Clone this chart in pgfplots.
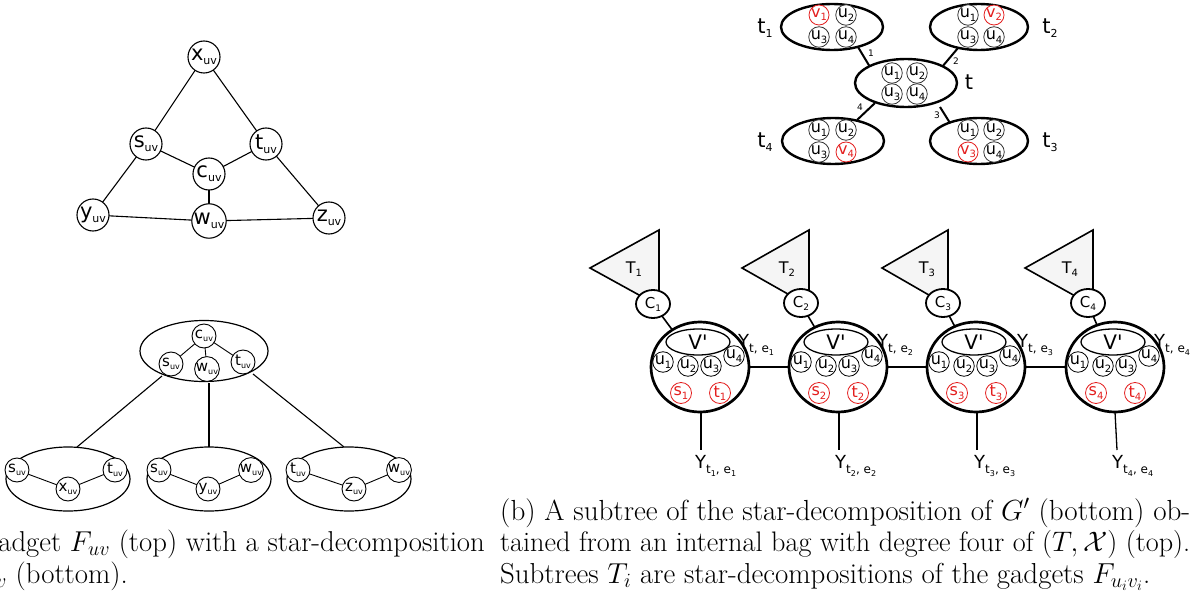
\RequirePackage{fix-cm}
\documentclass[border=0pt]{standalone}
\usepackage{pgfplots}
\pgfplotsset{compat=1.18}
\usepackage{fontspec}
\usetikzlibrary{shapes.geometric}
\newfontfamily\dv{DejaVu Sans}
\definecolor{myred}{RGB}{228,30,30}
\definecolor{trig}{RGB}{245,245,245}
\newcommand\Lb[4]{{\dv\fontsize{#1}{#1}\selectfont #3\raisebox{-0.2em}{\fontsize{#2}{#2}\selectfont #4}}}
\newcommand\ssub[1]{\raisebox{-3pt}{\fontsize{8}{8}\selectfont #1}}
\newcommand\Ya[1]{{\dv\fontsize{18}{18}\selectfont Y\raisebox{-5pt}{\fontsize{12}{12}\selectfont t, e\ssub{#1}}}}
\newcommand\Yb[1]{{\dv\fontsize{18}{18}\selectfont Y\raisebox{-5pt}{\fontsize{12}{12}\selectfont t\ssub{#1}, e\ssub{#1}}}}
\newcommand\E[5][]{\addplot[black, line width=1.1pt, #1] coordinates {(#2,#3) (#4,#5)};}
\newcommand\Cap[2]{\resizebox{#1}{!}{\fontsize{26}{32}\selectfont #2}}
\tikzset{
  gn/.style={draw, circle, fill=white, inner sep=0pt, minimum size=32pt, line width=1.1pt},
  sn/.style={draw, circle, fill=white, inner sep=0pt, minimum size=24pt, line width=0.9pt},
  bag/.style={draw, ellipse, fill=white, inner sep=0pt, line width=1.2pt},
  tb/.style={draw, ellipse, fill=white, inner sep=0pt, line width=2.4pt, minimum width=100pt, minimum height=46pt},
  uc/.style={draw=black!80, circle, fill=white, inner sep=0pt, minimum size=20pt, line width=0.8pt},
  rc/.style={draw=myred, text=myred, circle, fill=white, inner sep=0pt, minimum size=20pt, line width=0.8pt},
  big/.style={draw, ellipse, fill=white, inner sep=0pt, line width=2.7pt, minimum width=98pt, minimum height=90pt},
  vp/.style={draw, ellipse, fill=white, inner sep=0pt, line width=1.3pt, minimum width=64pt, minimum height=26pt},
  bu/.style={draw, circle, fill=white, inner sep=0pt, minimum size=20pt, line width=0.8pt},
  br/.style={draw=myred, text=myred, circle, fill=white, inner sep=0pt, minimum size=21pt, line width=0.8pt},
  ce/.style={draw, ellipse, fill=white, inner sep=0pt, line width=1.8pt, minimum width=34pt, minimum height=28pt},
}
\begin{document}
\begin{tikzpicture}
\begin{axis}[name=ax, x=1pt, y=1pt, xmin=0, xmax=1201, ymin=0, ymax=596,
  y dir=reverse, hide axis, clip=false]
% ---------- (a) top: gadget F_uv ----------
\E{204}{57}{146}{144}
\E{204}{57}{266}{144}
\E{146}{144}{209}{174}
\E{266}{144}{209}{174}
\E{146}{144}{93}{215}
\E{266}{144}{329}{218}
\E{209}{174}{209}{221}
\E{93}{215}{209}{221}
\E{209}{221}{329}{218}
\node[gn] at (204,57) {\Lb{21}{11}{x}{uv}};
\node[gn] at (146,144) {\Lb{21}{11}{s}{uv}};
\node[gn] at (266,144) {\Lb{21}{11}{t}{uv}};
\node[gn] at (209,174) {\Lb{21}{11}{c}{uv}};
\node[gn] at (93,215) {\Lb{21}{11}{y}{uv}};
\node[gn] at (209,221) {\Lb{21}{11}{w}{uv}};
\node[gn] at (329,218) {\Lb{21}{11}{z}{uv}};
% ---------- (a) bottom: star decomposition ----------
\E{162}{376}{77}{447}
\E{209}{383}{209}{448}
\E{253}{374}{344}{447}
\node[bag, minimum width=128pt, minimum height=61pt] at (204,351) {};
\E[line width=0.9pt]{204}{336}{171}{364}
\E[line width=0.9pt]{204}{336}{207}{369}
\E[line width=0.9pt]{204}{336}{243}{362}
\node[sn] at (204,336) {\Lb{15}{8}{c}{uv}};
\node[sn] at (171,364) {\Lb{15}{8}{s}{uv}};
\node[sn] at (207,369) {\Lb{15}{8}{w}{uv}};
\node[sn] at (243,362) {\Lb{15}{8}{t}{uv}};
\node[bag, minimum width=124pt, minimum height=64pt] at (68,479) {};
\node[bag, minimum width=124pt, minimum height=64pt] at (209,479) {};
\node[bag, minimum width=124pt, minimum height=64pt] at (349,479) {};
\E[line width=0.9pt]{17}{470}{68}{489}
\E[line width=0.9pt]{68}{489}{115}{470}
\E[line width=0.9pt]{159}{470}{208}{489}
\E[line width=0.9pt]{208}{489}{251}{470}
\E[line width=0.9pt]{298}{470}{354}{489}
\E[line width=0.9pt]{354}{489}{399}{470}
\node[sn] at (17,470) {\Lb{15}{8}{s}{uv}};
\node[sn] at (68,489) {\Lb{15}{8}{x}{uv}};
\node[sn] at (115,470) {\Lb{15}{8}{t}{uv}};
\node[sn] at (159,470) {\Lb{15}{8}{s}{uv}};
\node[sn] at (208,489) {\Lb{15}{8}{y}{uv}};
\node[sn] at (251,470) {\Lb{15}{8}{w}{uv}};
\node[sn] at (298,470) {\Lb{15}{8}{t}{uv}};
\node[sn] at (354,489) {\Lb{15}{8}{z}{uv}};
\node[sn] at (399,470) {\Lb{15}{8}{w}{uv}};
% ---------- (b) top: tree decomposition bag t ----------
\E[line width=2pt]{858}{47}{870}{67}
\E[line width=2pt]{958}{48}{942}{67}
\E[line width=2pt]{857}{120}{875}{103}
\E[line width=2pt]{950}{123}{940}{107}
\node[tb, minimum width=102pt] at (832,27) {};
\node[tb, minimum width=98pt] at (979,27) {};
\node[tb, minimum width=102pt, minimum height=48pt] at (906,83) {};
\node[tb, minimum width=102pt] at (833,141) {};
\node[tb, minimum width=98pt] at (979,141) {};
\node[rc] at (819,15) {\Lb{16}{10}{v}{1}};
\node[uc] at (846,15) {\Lb{16}{10}{u}{2}};
\node[uc] at (819,37) {\Lb{16}{10}{u}{3}};
\node[uc] at (846,37) {\Lb{16}{10}{u}{4}};
\node[uc] at (968,15) {\Lb{16}{10}{u}{1}};
\node[rc] at (994,15) {\Lb{16}{10}{v}{2}};
\node[uc] at (968,37) {\Lb{16}{10}{u}{3}};
\node[uc] at (994,37) {\Lb{16}{10}{u}{4}};
\node[uc] at (892,73) {\Lb{16}{10}{u}{1}};
\node[uc] at (917,73) {\Lb{16}{10}{u}{2}};
\node[uc] at (892,94) {\Lb{16}{10}{u}{3}};
\node[uc] at (917,94) {\Lb{16}{10}{u}{4}};
\node[uc] at (819,130) {\Lb{16}{10}{u}{1}};
\node[uc] at (846,130) {\Lb{16}{10}{u}{2}};
\node[uc] at (819,152) {\Lb{16}{10}{u}{3}};
\node[rc] at (846,152) {\Lb{16}{10}{v}{4}};
\node[uc] at (968,130) {\Lb{16}{10}{u}{1}};
\node[uc] at (994,130) {\Lb{16}{10}{u}{2}};
\node[rc] at (968,152) {\Lb{16}{10}{v}{3}};
\node[uc] at (994,152) {\Lb{16}{10}{u}{4}};
\node at (765,28) {\Lb{21}{11}{t}{1}};
\node at (1050,28) {\Lb{21}{11}{t}{2}};
\node at (969,82) {{\dv\fontsize{21}{21}\selectfont t}};
\node at (765,142) {\Lb{21}{11}{t}{4}};
\node at (1050,142) {\Lb{21}{11}{t}{3}};
\node at (871,53) {{\dv\fontsize{9}{9}\selectfont 1}};
\node at (956,61) {{\dv\fontsize{9}{9}\selectfont 2}};
\node at (860,107) {{\dv\fontsize{9}{9}\selectfont 4}};
\node at (937,115) {{\dv\fontsize{9}{9}\selectfont 3}};
% ---------- (b) bottom: subtree ----------
\E[line width=2pt]{749}{367}{789}{367}
\E[line width=2pt]{887}{367}{927}{367}
\E[line width=2pt]{1025}{367}{1066}{367}
\E[line width=1.3pt]{701}{412}{701}{450}
\E[line width=1.3pt]{839}{412}{839}{450}
\E[line width=1.3pt]{977}{412}{977}{450}
\E[line width=1.3pt]{1115}{412}{1117}{450}
\E[line width=1.6pt]{653}{304}{700}{367}
\E[line width=1.6pt]{801}{304}{838}{367}
\E[line width=1.6pt]{943}{304}{976}{367}
\E[line width=1.6pt]{1088}{304}{1115}{367}
\addplot[draw=black, fill=trig, line width=1.6pt] coordinates {(590,268) (659,230) (659,306)} -- cycle;
\addplot[draw=black, fill=trig, line width=1.6pt] coordinates {(742,268) (809,230) (809,306)} -- cycle;
\addplot[draw=black, fill=trig, line width=1.6pt] coordinates {(882,268) (948,230) (948,306)} -- cycle;
\addplot[draw=black, fill=trig, line width=1.6pt] coordinates {(1025,268) (1093,230) (1093,306)} -- cycle;
\node at (634,269) {\Lb{16}{10}{T}{1}};
\node at (787,269) {\Lb{16}{10}{T}{2}};
\node at (927,269) {\Lb{16}{10}{T}{3}};
\node at (1070,269) {\Lb{16}{10}{T}{4}};
\node[ce] at (653,304) {\Lb{15}{9}{C}{1}};
\node[ce] at (801,303) {\Lb{15}{9}{C}{2}};
\node[ce] at (943,303) {\Lb{15}{9}{C}{3}};
\node[ce] at (1088,303) {\Lb{15}{9}{C}{4}};
% group nodes
\node[big] at (700,367) {};
\node[big] at (838,367) {};
\node[big] at (976,367) {};
\node[big] at (1115,367) {};
\node[vp] at (698,342) {{\dv\fontsize{20}{20}\selectfont V'}};
\node[vp] at (836,342) {{\dv\fontsize{20}{20}\selectfont V'}};
\node[vp] at (974,342) {{\dv\fontsize{20}{20}\selectfont V'}};
\node[vp] at (1113,342) {{\dv\fontsize{20}{20}\selectfont V'}};
\node[bu] at (663,362) {\Lb{16}{10}{u}{1}};
\node[bu] at (688,366) {\Lb{16}{10}{u}{2}};
\node[bu] at (711,366) {\Lb{16}{10}{u}{3}};
\node[bu] at (734,356) {\Lb{16}{10}{u}{4}};
\node[bu] at (801,362) {\Lb{16}{10}{u}{1}};
\node[bu] at (826,366) {\Lb{16}{10}{u}{2}};
\node[bu] at (849,366) {\Lb{16}{10}{u}{3}};
\node[bu] at (872,356) {\Lb{16}{10}{u}{4}};
\node[bu] at (939,362) {\Lb{16}{10}{u}{1}};
\node[bu] at (964,366) {\Lb{16}{10}{u}{2}};
\node[bu] at (987,366) {\Lb{16}{10}{u}{3}};
\node[bu] at (1010,356) {\Lb{16}{10}{u}{4}};
\node[bu] at (1078,362) {\Lb{16}{10}{u}{1}};
\node[bu] at (1103,366) {\Lb{16}{10}{u}{2}};
\node[bu] at (1126,366) {\Lb{16}{10}{u}{3}};
\node[bu] at (1149,356) {\Lb{16}{10}{u}{4}};
\node[br] at (681,393) {\Lb{16}{10}{s}{1}};
\node[br] at (720,393) {\Lb{16}{10}{t}{1}};
\node[br] at (819,393) {\Lb{16}{10}{s}{2}};
\node[br] at (858,393) {\Lb{16}{10}{t}{2}};
\node[br] at (957,393) {\Lb{16}{10}{s}{3}};
\node[br] at (996,393) {\Lb{16}{10}{t}{3}};
\node[br] at (1096,393) {\Lb{16}{10}{s}{4}};
\node[br] at (1135,393) {\Lb{16}{10}{t}{4}};
\node[anchor=base west, inner sep=0pt] at (738,347) {\Ya{1}};
\node[anchor=base west, inner sep=0pt] at (877,347) {\Ya{2}};
\node[anchor=base west, inner sep=0pt] at (1017,347) {\Ya{3}};
\node[anchor=base west, inner sep=0pt] at (1154,347) {\Ya{4}};
\node[anchor=base west, inner sep=0pt] at (695,468) {\Yb{1}};
\node[anchor=base west, inner sep=0pt] at (835,468) {\Yb{2}};
\node[anchor=base west, inner sep=0pt] at (974,468) {\Yb{3}};
\node[anchor=base west, inner sep=0pt] at (1112,468) {\Yb{4}};
% ---------- captions ----------
\node[anchor=base east, inner sep=0pt] at (485,551) {\Cap{596pt}{(a) The gadget $F_{uv}$ (top) with a star-decomposition}};
\node[anchor=base east, inner sep=0pt] at (128,583) {\Cap{191pt}{of $F_{uv}$ (bottom).}};
\node[anchor=base west, inner sep=0pt] at (500,520) {\Cap{690pt}{(b) A subtree of the star-decomposition of $G'$ (bottom) ob-}};
\node[anchor=base west, inner sep=0pt] at (500,551) {\Cap{690pt}{tained from an internal bag with degree four of $(T,\mathcal{X})$ (top).}};
\node[anchor=base west, inner sep=0pt] at (500,583) {\Cap{650pt}{Subtrees $T_i$ are star-decompositions of the gadgets $F_{u_iv_i}$.}};
\end{axis}
\pgfresetboundingbox
\path[use as bounding box] (ax.south west) rectangle (ax.north east);
\end{tikzpicture}
\end{document}
